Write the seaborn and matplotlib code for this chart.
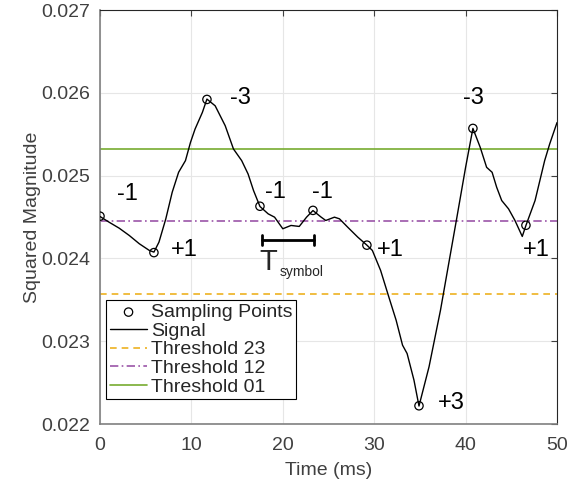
import matplotlib
matplotlib.use('Agg')
import matplotlib.pyplot as plt
import seaborn as sns
import pandas as pd

# Signal trace
sig_t = [0.0, 1.0, 2.1, 3.2, 4.3, 5.4, 5.9, 6.45, 7.2, 7.9, 8.6, 9.35, 9.9, 10.4,
         11.2, 11.7, 12.6, 13.7, 14.6, 15.5, 16.2, 16.8, 17.5, 18.4, 19.1, 20.0,
         20.9, 21.8, 22.6, 23.3, 24.2, 24.7, 25.65, 26.2, 27.1, 28.2, 29.2, 29.8,
         30.7, 31.6, 32.4, 33.1, 33.6, 34.35, 34.9, 36.0, 37.25, 38.15, 39.05,
         40.0, 40.8, 41.6, 42.3, 42.9, 43.4, 43.95, 44.7, 45.4, 46.2, 46.6, 47.6,
         48.65, 49.2, 50.0]
sig_y = [0.024506, 0.024437, 0.024365, 0.024277, 0.024177, 0.024096, 0.024076,
         0.024196, 0.024478, 0.024799, 0.025040, 0.025181, 0.025401, 0.025562,
         0.025763, 0.025924, 0.025843, 0.025602, 0.025322, 0.025181, 0.025020,
         0.024819, 0.024627, 0.024538, 0.024498, 0.024358, 0.024398, 0.024386,
         0.024498, 0.024578, 0.024498, 0.024458, 0.024498, 0.024478, 0.024377,
         0.024257, 0.024160, 0.024096, 0.023855, 0.023534, 0.023253, 0.022952,
         0.022851, 0.022530, 0.022217, 0.022691, 0.023373, 0.023936, 0.024498,
         0.025100, 0.025570, 0.025341, 0.025100, 0.025040, 0.024859, 0.024699,
         0.024598, 0.024458, 0.024265, 0.024398, 0.024699, 0.025181, 0.025382,
         0.025640]

# Sampling points
samp_t = [0.0, 5.9, 11.7, 17.5, 23.3, 29.2, 34.9, 40.8, 46.6]
samp_y = [0.02451, 0.02407, 0.02592, 0.02463, 0.02458, 0.02416, 0.02222, 0.02557, 0.02440]

# Symbol labels
sym_text = ['-1', '+1', '-3', '-1', '-1', '+1', '+3', '-3', '+1']
sym_t = [3.0, 9.2, 15.4, 19.2, 24.35, 31.8, 38.45, 40.9, 47.7]
sym_y = [0.02478, 0.02410, 0.02594, 0.02480, 0.02480, 0.02410, 0.02225, 0.02594, 0.02410]

# Thresholds
thr_23 = 0.023575
thr_12 = 0.024450
thr_01 = 0.025325

# T_symbol marker
tsym_start = 17.7
tsym_end = 23.4
tsym_y = 0.024217

sns.set_style('white')
plt.rcParams['font.family'] = ['Liberation Sans', 'DejaVu Sans']

fig = plt.figure(figsize=(5.83, 4.84), dpi=100)
ax = fig.add_axes([100 / 583, 1 - 424 / 484, 457 / 583, 414 / 484])

sig = pd.DataFrame({'t': sig_t, 'y': sig_y})
samp = pd.DataFrame({'t': samp_t, 'y': samp_y})

sns.scatterplot(data=samp, x='t', y='y', ax=ax, marker='o', s=36,
                facecolor='none', edgecolor='black', linewidth=0.9,
                label='Sampling Points', zorder=5)
sns.lineplot(data=sig, x='t', y='y', ax=ax, color='black', linewidth=1.0,
             label='Signal', sort=False, zorder=4)
ax.axhline(thr_23, color='#EDB120', linestyle=(0, (4, 3)), linewidth=1.2, label='Threshold 23')
ax.axhline(thr_12, color='#9B55A8', linestyle=(0, (5, 2, 1, 2)), linewidth=1.2, label='Threshold 12')
ax.axhline(thr_01, color='#77AC30', linestyle='-', linewidth=1.2, label='Threshold 01')

for txt, t, y in zip(sym_text, sym_t, sym_y):
    ax.text(t, y, txt, fontsize=17, ha='center', va='center', color='black')

# T_symbol bar
ax.plot([tsym_start, tsym_end], [tsym_y, tsym_y], color='black', linewidth=2)
for t in (tsym_start, tsym_end):
    ax.plot([t, t], [tsym_y - 0.00006, tsym_y + 0.00006], color='black', linewidth=2)
ax.text(18.4, 0.02396, 'T', fontsize=21, ha='center', va='center')
ax.text(22.1, 0.02383, 'symbol', fontsize=10, ha='center', va='center')

ax.set_xlim(0, 50)
ax.set_ylim(0.022, 0.027)
ax.set_xticks([0, 10, 20, 30, 40, 50])
ax.set_yticks([0.022, 0.023, 0.024, 0.025, 0.026, 0.027])
ax.set_yticklabels(['0.022', '0.023', '0.024', '0.025', '0.026', '0.027'])
ax.grid(True, color='#e6e6e6', linewidth=0.8)
ax.set_axisbelow(True)

ax.tick_params(direction='in', length=4, width=0.8, labelsize=14,
               colors='#404040', top=True, right=True)
ax.tick_params(axis='x', pad=9)
ax.tick_params(axis='y', pad=7)
for side in ('left', 'bottom'):
    ax.spines[side].set_color('#808080')
    ax.spines[side].set_linewidth(1.2)
for side in ('top', 'right'):
    ax.spines[side].set_color('#262626')
    ax.spines[side].set_linewidth(0.8)

ax.set_xlabel('Time (ms)', fontsize=14, color='#404040', labelpad=6)
ax.set_ylabel('Squared Magnitude', fontsize=14, color='#404040', labelpad=0)

handles, labels = ax.get_legend_handles_labels()
leg = ax.legend(handles, labels, loc='lower left', bbox_to_anchor=(0.005, 0.05),
                fontsize=14, frameon=True, fancybox=False, edgecolor='black',
                framealpha=1, handlelength=1.9, handletextpad=0.2,
                labelspacing=0.05, borderpad=0.2, borderaxespad=0.2)
leg.get_frame().set_linewidth(0.8)

fig.savefig('out.png', dpi=100)
